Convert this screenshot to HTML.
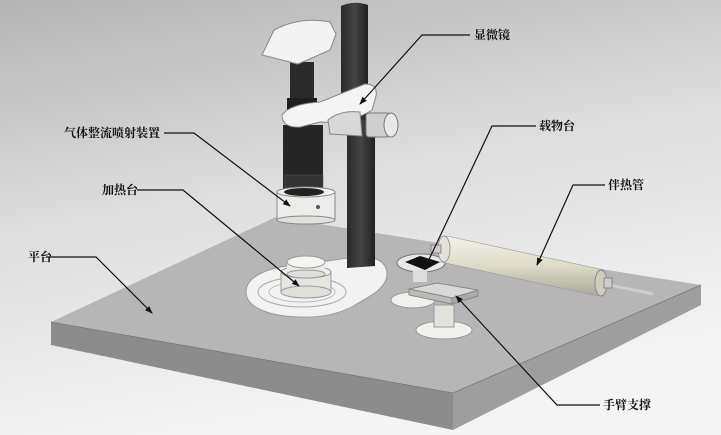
<!DOCTYPE html>
<html><head><meta charset="utf-8"><style>
html,body{margin:0;padding:0;width:721px;height:435px;overflow:hidden;background:#fff}
svg{display:block}
text{font-family:"Liberation Serif","Noto Serif CJK SC","Noto Sans CJK SC",serif;font-size:12px;font-weight:bold;fill:#111}
</style></head><body>
<svg width="721" height="435" viewBox="0 0 721 435" xmlns="http://www.w3.org/2000/svg">
<defs>
<linearGradient id="bg" x1="0" y1="0" x2="0.3" y2="1">
<stop offset="0" stop-color="#b4b4b4"/><stop offset="0.5" stop-color="#dedede"/><stop offset="1" stop-color="#f4f4f4"/>
</linearGradient>
<linearGradient id="pole" x1="0" x2="1"><stop offset="0" stop-color="#2a2a2a"/><stop offset="0.5" stop-color="#444"/><stop offset="1" stop-color="#222"/></linearGradient>
<linearGradient id="tube" x1="0" y1="0" x2="0" y2="1"><stop offset="0" stop-color="#f4f2e6"/><stop offset="0.5" stop-color="#dddac8"/><stop offset="1" stop-color="#aaa898"/></linearGradient>
<marker id="ar" markerWidth="8" markerHeight="8" refX="7" refY="4" orient="auto" markerUnits="userSpaceOnUse"><path d="M0,1 L8,4 L0,7 Z" fill="#111"/></marker>
</defs>
<rect width="721" height="435" fill="url(#bg)"/>
<!-- platform -->
<polygon points="51,322 276,217 701,285 453,393" fill="#b6b6b6"/>
<polygon points="51,322 453,393 453,430 51,345" fill="#8c8c8c"/>
<polygon points="453,393 701,285 701,305 453,430" fill="#9e9e9e"/>
<polyline points="51,322 453,393 701,285" fill="none" stroke="#777" stroke-width="0.8"/>
<!-- stand base -->
<path d="M246,292 C246,276 270,266 300,265 L348,258 C372,252 392,262 386,280 C380,292 370,296 355,305 C340,314 320,318 298,317 C266,316 246,306 246,292 Z" fill="#f2f2f2" stroke="#999" stroke-width="1"/>
<ellipse cx="302" cy="292" rx="44" ry="15" fill="none" stroke="#aaa"/>
<ellipse cx="302" cy="292" rx="33" ry="10" fill="none" stroke="#bbb"/>
<!-- heating stage -->
<rect x="281" y="272" width="50" height="20" fill="#e6e6e0" stroke="#999"/>
<ellipse cx="306" cy="292" rx="25" ry="6" fill="#e0e0da" stroke="#999"/>
<ellipse cx="306" cy="272" rx="25" ry="6" fill="#f0f0ea" stroke="#999"/>
<rect x="287" y="262" width="38" height="12" fill="#ebebe5"/>
<ellipse cx="306" cy="274" rx="19" ry="4" fill="#ddd" stroke="#999"/>
<ellipse cx="306" cy="262" rx="19" ry="6" fill="#f4f4f0" stroke="#999"/>
<!-- pole -->
<path d="M347,120 L375,120 L375,266 L347,268 Z" fill="url(#pole)"/>
<path d="M341,6 Q354,0 368,5 L368,120 L341,120 Z" fill="url(#pole)"/>
<!-- lower tube -->
<rect x="283" y="125" width="40" height="72" fill="#262626"/>
<rect x="285" y="175" width="38" height="14" fill="#333" stroke="#555" stroke-width="0.5"/>
<!-- ring -->
<rect x="277" y="192" width="58" height="28" fill="#ececea" stroke="#888"/>
<ellipse cx="306" cy="220" rx="29" ry="4" fill="#e0e0de" stroke="#888"/>
<ellipse cx="306" cy="192" rx="29" ry="5" fill="#f2f2f0" stroke="#888"/>
<ellipse cx="304" cy="192" rx="20" ry="4" fill="#222"/>
<circle cx="318" cy="207" r="2" fill="#555"/>
<!-- upper tube -->
<rect x="290" y="62" width="24" height="48" fill="#2a2a2a"/>
<rect x="287" y="98" width="30" height="20" fill="#1e1e1e"/>
<!-- camera head -->
<path d="M262,55 L274,30 Q300,16 330,22 L336,34 L330,50 Q312,58 298,64 Z" fill="#f2f2f2" stroke="#888"/>
<path d="M262,55 L298,64" fill="none" stroke="#999"/>
<!-- bracket -->
<path d="M282,115 Q290,104 320,102 L365,84 Q378,84 376,96 L372,110 Q350,124 320,122 L300,127 Q282,128 282,115 Z" fill="#f4f4f4" stroke="#888"/>
<path d="M328,120 Q340,110 360,112 L362,136 L330,134 Z" fill="#d8d8d8" stroke="#888"/>
<rect x="366" y="113" width="24" height="24" rx="3" fill="#cfcfcf" stroke="#777"/>
<ellipse cx="391" cy="125" rx="7" ry="12" fill="#e8e8e8" stroke="#777"/>
<!-- stage -->
<ellipse cx="421" cy="263" rx="24" ry="9" fill="#e8e8e8" stroke="#777"/>
<polygon points="405,262 420,256 440,262 425,270" fill="#111"/>
<rect x="413" y="270" width="14" height="12" fill="#ddd"/>
<!-- arm support -->
<ellipse cx="413" cy="300" rx="22" ry="8" fill="#f0f0ec" stroke="#999"/>
<ellipse cx="444" cy="330" rx="28" ry="9" fill="#f0f0ec" stroke="#999"/>
<rect x="434" y="305" width="20" height="22" fill="#e2e2da" stroke="#999"/>
<polygon points="409,289 437,283 478,290 452,298" fill="#d8d8d8" stroke="#888"/>
<polygon points="409,289 452,298 452,304 409,295" fill="#bbb" stroke="#888"/>
<polygon points="452,298 478,290 478,296 452,304" fill="#aaa" stroke="#888"/>
<!-- heating tube -->
<line x1="600" y1="283" x2="653" y2="294" stroke="#ccc" stroke-width="3"/>
<polygon points="447,236 604,270 598,296 441,262" fill="url(#tube)" stroke="#999" stroke-width="0.6"/>
<ellipse cx="444" cy="249" rx="6" ry="13" fill="#e4e2d4" stroke="#999"/>
<ellipse cx="601" cy="283" rx="6" ry="13" fill="#cfcdc0" stroke="#888"/>
<rect x="431" y="245" width="10" height="8" fill="#ccc" stroke="#888"/>
<rect x="604" y="278" width="8" height="10" fill="#ccc" stroke="#888"/>
<!-- labels -->
<g stroke="#111" stroke-width="1.2" fill="none">
<polyline points="470,35 422,35 360,104" marker-end="url(#ar)"/>
<polyline points="536,126 492,126 425,268" marker-end="url(#ar)"/>
<polyline points="605,185 573,185 537,265" marker-end="url(#ar)"/>
<polyline points="164,133 194,133 290,206" marker-end="url(#ar)"/>
<polyline points="137,190 183,190 299,286" marker-end="url(#ar)"/>
<polyline points="46,257 96,257 152,313" marker-end="url(#ar)"/>
<polyline points="600,405 557,405 456,296" marker-end="url(#ar)"/>
</g>
<text x="474" y="39">显微镜</text>
<text x="539" y="130">载物台</text>
<text x="608" y="189">伴热管</text>
<text x="64" y="137">气体整流喷射装置</text>
<text x="102" y="194">加热台</text>
<text x="28" y="261">平台</text>
<text x="603" y="409">手臂支撑</text>
</svg>
</body></html>
